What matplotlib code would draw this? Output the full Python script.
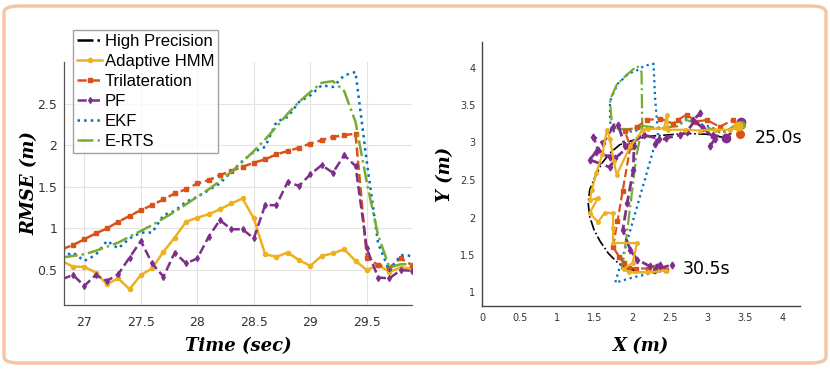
import matplotlib
matplotlib.use("Agg")
import matplotlib.pyplot as plt
from matplotlib.patches import FancyBboxPatch

# ---------------- data: RMSE vs time ----------------
time = [26.8, 26.9, 27.0, 27.1, 27.2, 27.3, 27.4, 27.5, 27.6, 27.7, 27.8, 27.9,
        28.0, 28.1, 28.2, 28.3, 28.4, 28.5, 28.6, 28.7, 28.8, 28.9, 29.0, 29.1,
        29.2, 29.3, 29.4, 29.5, 29.6, 29.7, 29.8, 29.9]
rmse_hp = [0.0] * 32
rmse_hmm = [0.61, 0.54, 0.54, 0.47, 0.33, 0.40, 0.27, 0.44, 0.52, 0.72, 0.89, 1.08,
            1.13, 1.17, 1.23, 1.30, 1.36, 1.12, 0.69, 0.66, 0.71, 0.62, 0.55, 0.67,
            0.70, 0.75, 0.61, 0.50, 0.56, 0.48, 0.53, 0.52]
rmse_tril = [0.75, 0.80, 0.87, 0.94, 1.00, 1.08, 1.15, 1.22, 1.28, 1.35, 1.42, 1.47,
             1.54, 1.58, 1.64, 1.69, 1.74, 1.79, 1.83, 1.89, 1.93, 1.97, 2.02, 2.06,
             2.10, 2.12, 2.14, 0.65, 0.56, 0.53, 0.64, 0.56]
rmse_pf = [0.39, 0.44, 0.31, 0.44, 0.37, 0.45, 0.65, 0.85, 0.58, 0.42, 0.71, 0.58,
           0.64, 0.90, 1.10, 0.99, 0.99, 0.88, 1.28, 1.28, 1.56, 1.51, 1.65, 1.76,
           1.67, 1.88, 1.75, 0.76, 0.41, 0.40, 0.50, 0.49]
rmse_ekf = [0.66, 0.71, 0.61, 0.68, 0.85, 0.76, 0.88, 0.95, 0.95, 1.16, 1.21, 1.32,
            1.38, 1.46, 1.54, 1.68, 1.81, 1.92, 1.98, 2.28, 2.34, 2.52, 2.60, 2.72,
            2.70, 2.84, 2.88, 1.80, 0.82, 0.49, 0.68, 0.67]
rmse_erts = [0.65, 0.67, 0.69, 0.73, 0.78, 0.83, 0.90, 0.97, 1.04, 1.12, 1.20, 1.29,
             1.38, 1.47, 1.57, 1.68, 1.80, 1.93, 2.07, 2.22, 2.38, 2.52, 2.64, 2.75,
             2.77, 2.65, 2.28, 1.55, 0.92, 0.53, 0.57, 0.57]

left_xticks = [27, 27.5, 28, 28.5, 29, 29.5]
left_xticklabels = ["27", "27.5", "28", "28.5", "29", "29.5"]
left_yticks = [0.5, 1, 1.5, 2, 2.5]
left_yticklabels = ["0.5", "1", "1.5", "2", "2.5"]

labels = ["High Precision", "Adaptive HMM", "Trilateration", "PF", "EKF", "E-RTS"]

# ---------------- data: trajectories ----------------
hp_x = [3.25, 2.99, 2.72, 2.45, 2.19, 2.01, 1.83, 1.70, 1.59, 1.50, 1.43, 1.41,
        1.43, 1.49, 1.57, 1.68, 1.81, 1.94, 2.03]
hp_y = [3.06, 3.11, 3.12, 3.10, 3.08, 3.03, 2.97, 2.86, 2.72, 2.54, 2.37, 2.19,
        2.01, 1.83, 1.68, 1.52, 1.39, 1.31, 1.30]

hmm_x = [3.41, 3.30, 3.10, 2.90, 2.70, 2.47, 2.46, 2.42, 2.20, 2.14, 1.97, 1.79,
         1.75, 1.70, 1.66, 1.60, 1.52, 1.46, 1.43, 1.54, 1.43, 1.54, 1.63, 1.74,
         1.74, 1.74, 2.06, 2.00, 1.88, 1.95, 2.20, 2.45]
hmm_y = [3.22, 3.17, 3.17, 3.16, 3.17, 3.17, 3.37, 3.19, 3.18, 3.17, 2.95, 2.57,
         2.75, 3.05, 3.17, 2.85, 2.60, 2.37, 2.23, 2.26, 2.06, 1.94, 2.06, 2.06,
         1.86, 1.66, 1.66, 1.39, 1.32, 1.27, 1.27, 1.29]

tril_x = [3.43, 3.43, 3.34, 3.16, 2.99, 2.85, 2.72, 2.60, 2.54, 2.37, 2.19, 2.06,
          1.90, 1.97, 1.87, 1.80, 1.74, 1.82, 1.88, 1.95, 2.05, 2.20, 2.30, 2.45]
tril_y = [3.11, 3.22, 3.30, 3.21, 3.30, 3.28, 3.37, 3.30, 3.25, 3.32, 3.30, 3.21,
          3.15, 2.94, 2.36, 1.95, 1.61, 1.48, 1.39, 1.33, 1.32, 1.32, 1.34, 1.30]

pf_x = [3.44, 3.25, 3.07, 3.03, 3.10, 2.94, 2.81, 2.90, 2.72, 2.63, 2.45, 2.30,
        2.35, 2.15, 2.00, 1.90, 1.81, 1.74, 1.61, 1.48, 1.54, 1.70, 1.51, 1.43,
        1.70, 1.77, 1.95, 2.02, 2.01, 1.93, 1.87, 1.97, 2.06, 2.23, 2.36, 2.30, 2.52]
pf_y = [3.28, 3.06, 3.10, 2.95, 3.05, 3.19, 3.30, 3.39, 3.14, 3.10, 3.06, 2.98,
        3.05, 3.10, 3.00, 2.95, 3.23, 3.21, 2.99, 3.08, 2.90, 2.81, 2.87, 2.77,
        2.67, 2.79, 2.95, 2.95, 2.63, 2.20, 1.83, 1.57, 1.44, 1.35, 1.37, 1.30, 1.37]

ekf_x = [3.45, 3.35, 3.20, 3.00, 2.85, 2.72, 2.60, 2.45, 2.30, 2.15, 2.00, 1.85,
         1.72, 1.70, 1.70, 1.80, 1.95, 2.08, 2.15, 2.28, 2.30, 2.34, 1.77, 2.00, 2.45]
ekf_y = [3.25, 3.20, 3.14, 3.22, 3.26, 3.32, 3.22, 3.20, 3.18, 3.20, 3.14, 3.18,
         3.14, 3.30, 3.55, 3.78, 3.92, 3.97, 4.02, 4.05, 3.60, 3.12, 1.13, 1.20, 1.30]

erts_x = [3.45, 3.35, 3.20, 3.00, 2.85, 2.72, 2.60, 2.45, 2.30, 2.15, 2.00, 1.85,
          1.79, 1.72, 1.70, 1.79, 1.92, 2.06, 2.12, 2.13, 2.05, 1.97, 1.89, 1.86,
          1.95, 2.20, 2.45]
erts_y = [3.23, 3.22, 3.12, 3.20, 3.25, 3.30, 3.22, 3.20, 3.20, 3.22, 3.18, 3.18,
          3.19, 3.30, 3.57, 3.77, 3.90, 4.02, 3.94, 3.21, 2.81, 2.15, 1.52, 1.32,
          1.27, 1.27, 1.30]

right_ticks_x = [0, 0.5, 1, 1.5, 2, 2.5, 3, 3.5, 4]
right_ticklabels_x = ["0", "0.5", "1", "1.5", "2", "2.5", "3", "3.5", "4"]
right_ticks_y = [1, 1.5, 2, 2.5, 3, 3.5, 4]
right_ticklabels_y = ["1", "1.5", "2", "2.5", "3", "3.5", "4"]

# ---------------- styles ----------------
C_HMM = "#EDB120"
C_TRIL = "#D95319"
C_PF = "#7E2F8E"
C_EKF = "#0072BD"
C_ERTS = "#77AC30"
C_HP = "#000000"

W, H = 830, 369
fig = plt.figure(figsize=(W / 100, H / 100), dpi=100)
fig.patch.set_facecolor("white")

# rounded border
border = FancyBboxPatch((4 / W, 6 / H), (822 / W), (357 / H),
                        boxstyle="round,pad=0,rounding_size=0.018",
                        transform=fig.transFigure, facecolor="none",
                        edgecolor="#F6C4A0", linewidth=2.4, zorder=0)
fig.patches.append(border)

label_font = dict(family="DejaVu Serif", style="italic", weight="bold", size=13)

# ---------------- left panel ----------------
ax1 = fig.add_axes([64 / W, 1 - 305 / H, 348 / W, 243 / H])
lw = 1.8
ax1.plot(time, rmse_hp, color=C_HP, ls="-.", lw=lw, label=labels[0])
ax1.plot(time, rmse_hmm, color=C_HMM, ls="-", lw=lw, marker="o", ms=3, label=labels[1])
ax1.plot(time, rmse_tril, color=C_TRIL, ls="--", lw=lw, marker="s", ms=2.5, label=labels[2])
ax1.plot(time, rmse_pf, color=C_PF, ls="--", lw=lw, marker="d", ms=3, label=labels[3])
ax1.plot(time, rmse_ekf, color=C_EKF, ls=":", lw=lw, label=labels[4])
ax1.plot(time, rmse_erts, color=C_ERTS, ls="-.", lw=lw, label=labels[5])

ax1.set_xlim(26.82, 29.9)
ax1.set_ylim(0.08, 3.0)
ax1.set_xticks(left_xticks)
ax1.set_xticklabels(left_xticklabels)
ax1.set_yticks(left_yticks)
ax1.set_yticklabels(left_yticklabels)
ax1.grid(True, color="#E3E3E3", lw=0.8)
ax1.set_axisbelow(True)
for s in ["top", "right"]:
    ax1.spines[s].set_visible(False)
for s in ["left", "bottom"]:
    ax1.spines[s].set_color("#555555")
    ax1.spines[s].set_linewidth(0.9)
ax1.tick_params(axis="both", labelsize=9, colors="#333333", length=0, pad=5)
ax1.tick_params(axis="x", pad=8)
ax1.set_ylabel("RMSE (m)", **label_font, labelpad=-1)
ax1.set_xlabel("Time (sec)", **label_font, labelpad=6)

leg = ax1.legend(loc="upper left", bbox_to_anchor=(73 / W, 1 - 30 / H),
                 bbox_transform=fig.transFigure, borderaxespad=0,
                 prop=dict(family="Liberation Sans", size=12), frameon=True,
                 fancybox=False, handlelength=1.5, handletextpad=0.15,
                 labelspacing=0.3, borderpad=0.25, numpoints=1)
leg.get_frame().set_edgecolor("#8C8C8C")
leg.get_frame().set_linewidth(1.0)

# ---------------- right panel ----------------
ax2 = fig.add_axes([482.3 / W, 1 - 306 / H, (800 - 482.3) / W, 264 / H])
lw2 = 1.6
ax2.plot(hp_x, hp_y, color=C_HP, ls="-.", lw=1.2)
ax2.plot(hp_x[-1:], hp_y[-1:], color=C_HP, marker="s", ms=3, ls="none")
ax2.plot(ekf_x, ekf_y, color=C_EKF, ls=":", lw=lw2)
ax2.plot(erts_x, erts_y, color=C_ERTS, ls="-.", lw=lw2)
ax2.plot(tril_x, tril_y, color=C_TRIL, ls="--", lw=lw2, marker="s", ms=2.5)
ax2.plot(pf_x, pf_y, color=C_PF, ls="--", lw=lw2 + 0.4, marker="d", ms=3.5)
ax2.plot(hmm_x, hmm_y, color=C_HMM, ls="-", lw=lw2, marker="o", ms=2.5)
# start markers
ax2.plot(pf_x[:2], pf_y[:2], color=C_PF, marker="o", ms=6, ls="none")
ax2.plot(tril_x[:1], tril_y[:1], color=C_TRIL, marker="o", ms=5.5, ls="none")
ax2.plot(erts_x[:1], erts_y[:1], color=C_ERTS, marker="o", ms=5.5, ls="none")
ax2.plot(hmm_x[:1], hmm_y[:1], color=C_HMM, marker="o", ms=6, ls="none")

ax2.set_xlim(0, 4.23)
ax2.set_ylim(0.82, 4.34)
ax2.set_xticks(right_ticks_x)
ax2.set_xticklabels(right_ticklabels_x)
ax2.set_yticks(right_ticks_y)
ax2.set_yticklabels(right_ticklabels_y)
for s in ["top", "right"]:
    ax2.spines[s].set_visible(False)
for s in ["left", "bottom"]:
    ax2.spines[s].set_color("#444444")
    ax2.spines[s].set_linewidth(1.0)
ax2.tick_params(axis="both", labelsize=7, colors="#333333", length=0, pad=5)
ax2.set_ylabel("Y (m)", **label_font, labelpad=4)
ax2.set_xlabel("X (m)", **label_font, labelpad=10)

ax2.text(3.63, 3.06, "25.0s", fontsize=12.5, va="center", ha="left", color="black")
ax2.text(2.67, 1.32, "30.5s", fontsize=12.5, va="center", ha="left", color="black")

fig.savefig("out.png", dpi=100)
